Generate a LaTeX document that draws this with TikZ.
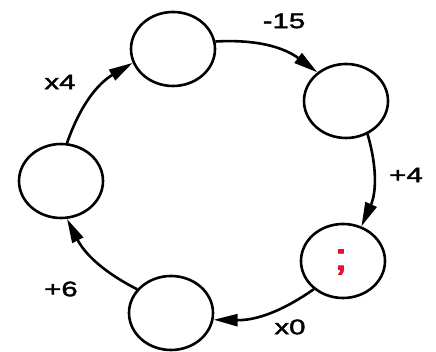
\documentclass[tikz,border=0pt]{standalone}
\usepackage{fontspec}
\setmainfont{Liberation Sans}
\newfontfamily\lblfont[FakeStretch=1.4,FakeBold=2]{Liberation Sans}
\usetikzlibrary{shapes.geometric,arrows.meta}
\definecolor{semired}{HTML}{E8112D}
\begin{document}
\begin{tikzpicture}[x=1pt,y=1pt,
  state/.style={draw=black,line width=2.6pt,ellipse,minimum width=84pt,minimum height=74pt,inner sep=0pt},
  flow/.style={line width=2.6pt,-{Triangle[length=24pt,width=12pt]}},
  lbl/.style={inner sep=0pt,font=\lblfont\fontsize{21}{25}\selectfont}]
\useasboundingbox (0,0) rectangle (436,352);
\node[state] (top) at (173,303) {};
\node[state] (rtop) at (346,251) {};
\node[state] (rbot) at (343,91) {};
\node[state] (bot) at (171,39) {};
\node[state] (left) at (61,171) {};
\node[inner sep=0pt,text=semired,font=\lblfont\fontsize{38}{42}\selectfont] (semi) at (341,90) {;};
\draw[flow] (top.10) to[bend left=20] (rtop.135);
\draw[flow] (rtop.-57) to[bend left=20] (rbot.62);
\draw[flow] (rbot.224) to[bend left=18] (bot.-9);
\draw[flow] (bot.145) to[bend left=18] (left.-81);
\draw[flow] (left.81) to[bend left=20] (top.199);
\node[lbl] (l1) at (284,331) {-15};
\node[lbl] (l2) at (406,177) {+4};
\node[lbl] (l3) at (290,25) {x0};
\node[lbl] (l4) at (61,63) {+6};
\node[lbl] (l5) at (60,270) {x4};
\end{tikzpicture}
\end{document}
